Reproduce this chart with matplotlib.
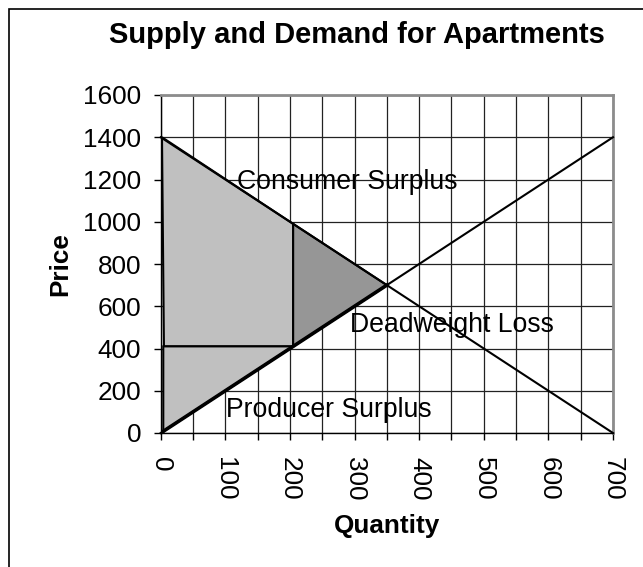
import matplotlib
matplotlib.use("Agg")
import matplotlib.pyplot as plt
from matplotlib.patches import Polygon, Rectangle

plt.rcParams['font.family'] = ['Liberation Sans', 'DejaVu Sans']

# demand / supply curves (quantity, price)
demand_q = [0, 700]
demand_p = [1400, 0]
supply_q = [0, 700]
supply_p = [0, 1400]

# rent control point and equilibrium
ceiling_q = 205
ceiling_p = 410
demand_at_ceiling = 990
equil_q = 350
equil_p = 700
left_q = 5  # the areas start a little right of the axis

x_ticks = [0, 100, 200, 300, 400, 500, 600, 700]
y_ticks = [0, 200, 400, 600, 800, 1000, 1200, 1400, 1600]

fig = plt.figure(figsize=(6.43, 5.67), dpi=100)
ax = fig.add_axes([160.7 / 643, 1 - 433 / 567, (613 - 160.7) / 643, (433 - 95) / 567])

# consumer surplus
cs = [(2, demand_p[0]), (ceiling_q, demand_at_ceiling), (ceiling_q, ceiling_p),
      (left_q, ceiling_p)]
ax.add_patch(Polygon(cs, closed=True, facecolor='#c0c0c0', edgecolor='black', lw=1.5, zorder=2))
# producer surplus
ps = [(0, 0), (ceiling_q, ceiling_p), (left_q - 1, ceiling_p), (left_q - 1, 0)]
ax.add_patch(Polygon(ps, closed=True, facecolor='#c0c0c0', edgecolor='black', lw=1.5, zorder=2))
# deadweight loss
dwl = [(ceiling_q, demand_at_ceiling), (equil_q, equil_p), (ceiling_q, ceiling_p)]
ax.add_patch(Polygon(dwl, closed=True, facecolor='#969696', edgecolor='black', lw=1.5, zorder=2))

ax.plot(demand_q, demand_p, color='black', lw=1.5, zorder=3, clip_on=False)
ax.plot(supply_q, supply_p, color='black', lw=1.5, zorder=3, clip_on=False)
# the part of supply that borders the shaded areas looks heavier
ax.plot([supply_q[0], equil_q], [supply_p[0], equil_p], color='black', lw=2.6, zorder=3)

ax.text(118, 1190, 'Consumer Surplus', fontsize=19.2, va='center', ha='left', zorder=4)
ax.text(293, 512, 'Deadweight Loss', fontsize=19.2, va='center', ha='left', zorder=4)
ax.text(101, 109, 'Producer Surplus', fontsize=19.2, va='center', ha='left', zorder=4)

ax.set_xlim(0, 700)
ax.set_ylim(0, 1600)
ax.set_xticks(range(0, 701, 50))
ax.set_xticklabels([str(v) if v in x_ticks else '' for v in range(0, 701, 50)],
                   rotation=-90, fontsize=18.8)
ax.set_yticks(y_ticks)
ax.set_yticklabels([str(v) for v in y_ticks], fontsize=18.8)
ax.tick_params(direction='out', length=5, width=1, color='black')
ax.tick_params(axis='y', pad=9)
ax.tick_params(axis='x', pad=12)
ax.grid(True, color='#222222', lw=0.9, zorder=1)
ax.set_axisbelow(True)

for side in ['top', 'right']:
    ax.spines[side].set_color('#8c8c8c')
    ax.spines[side].set_linewidth(2)
for side in ['left', 'bottom']:
    ax.spines[side].set_color('black')
    ax.spines[side].set_linewidth(1)

ax.set_xlabel('Quantity', fontsize=18.8, fontweight='bold', labelpad=10)
ax.set_ylabel('Price', fontsize=18.8, fontweight='bold', labelpad=8)

fig.text(357 / 643, 1 - 35 / 567, 'Supply and Demand for Apartments',
         fontsize=21, fontweight='bold', ha='center', va='center')

fig.patches.append(Rectangle((9 / 643, -0.1), 1.2, 1.1 - 9 / 567, transform=fig.transFigure,
                             fill=False, edgecolor='black', lw=1.2))

fig.savefig('out.png', dpi=100)
